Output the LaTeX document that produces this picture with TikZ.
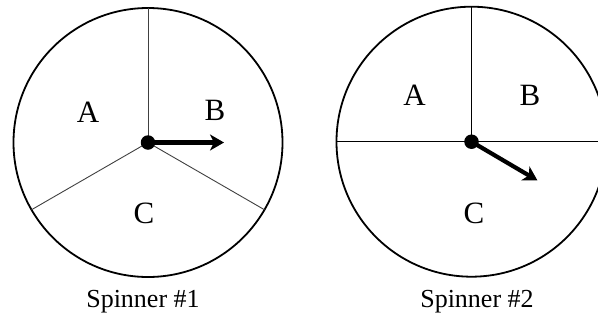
\documentclass[tikz,border=0pt]{standalone}
\usepackage{fontspec}
\setmainfont{Liberation Serif}
\usetikzlibrary{arrows.meta,calc}
\tikzset{
  rim/.style={line width=1.8pt},
  divider/.style={line width=0.9pt, draw=black!75},
  pointer/.style={line width=4.2pt, -{Stealth[length=14pt,width=16pt,inset=4pt]}},
  hub/.style={circle, fill=black, inner sep=0pt, minimum size=14.5pt},
  lbl/.style={font=\fontsize{31}{33}\selectfont, inner sep=0pt},
  spincaption/.style={font=\fontsize{26}{28}\selectfont, inner sep=0pt}
}
\begin{document}
\begin{tikzpicture}[x=1pt,y=-1pt]
\useasboundingbox (0,0) rectangle (598,322);
\begin{scope}
\clip (0,0) rectangle (598,322);
% Spinner 1
\coordinate (c1) at (148,142.5);
\draw[rim] (c1) circle[radius=134.5];
\draw[divider] (c1) -- ++(90:-134.5) coordinate (t1);
\draw[divider] (c1) -- ++(-210:134.5);
\draw[divider] (c1) -- ++(-330:134.5);
\coordinate (p1) at (224,142.5);
\draw[pointer] (c1) -- (p1);
\node[hub] (h1) at (c1) {};
\node[lbl] (A1) at (88,112) {A};
\node[lbl] (B1) at (215,110) {B};
\node[lbl] (C1) at (144,213) {C};
\node[spincaption] (S1) at (143,302) {Spinner \#1};
% Spinner 2
\coordinate (c2) at (471.5,141.7);
\draw[rim] (c2) circle[radius=135];
\draw[divider, draw=black] (c2) -- ++(0,-135);
\draw[divider, draw=black] ($(c2)+(-135,0)$) -- ($(c2)+(135,0)$);
\coordinate (p2) at (537.5,180.5);
\draw[pointer] (c2) -- (p2);
\node[hub] (h2) at (c2) {};
\node[lbl] (A2) at (414.5,95) {A};
\node[lbl] (B2) at (530,95) {B};
\node[lbl] (C2) at (474,213) {C};
\node[spincaption] (S2) at (477,302) {Spinner \#2};
\end{scope}
\end{tikzpicture}
\end{document}
